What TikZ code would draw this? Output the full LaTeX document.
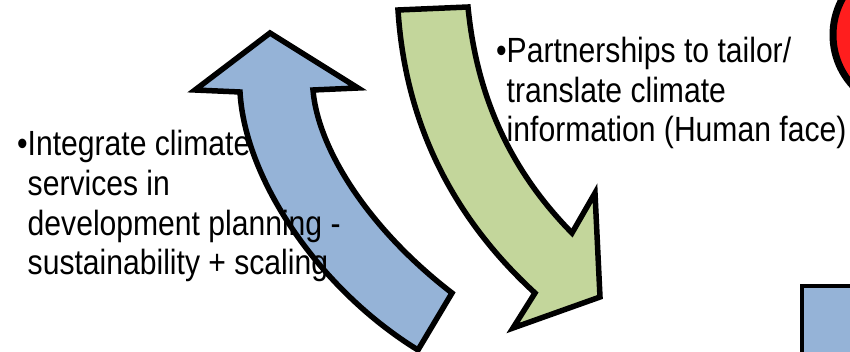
\documentclass[tikz,border=0pt]{standalone}
\usepackage{fontspec}
\setmainfont[FakeStretch=0.86]{Liberation Sans}
\usepackage{tikz}
\definecolor{skyblue}{RGB}{149, 179, 215}
\definecolor{leaf}{RGB}{195, 214, 155}
\definecolor{signal}{RGB}{255, 30, 30}

\begin{document}
\begin{tikzpicture}[x=0.1mm, y=-0.1mm, line width=0.55mm,
  font=\fontsize{9.96pt}{11.38pt}\selectfont]
  \useasboundingbox (0, 0) rectangle (850, 352);
  \clip (0, 0) rectangle (850, 352);

  % red disc and blue box, both cut by the edge
  \draw [fill=signal, line width=0.7mm] (908, 35) circle (7.5mm);
  \draw [fill=skyblue, line width=0.4mm] (802, 286) rectangle (900, 400);

  % green arrow, bending down to the right
  \draw [fill=leaf] (398, 10) -- (468, 7)
    .. controls (478, 110) and (520, 180) .. (572, 233)
    -- (595, 193) -- (600, 297) -- (513, 328) -- (535, 293)
    .. controls (450, 215) and (405, 120) .. (398, 10) -- cycle;

  % blue arrow, bending up to the left
  \draw [fill=skyblue] (418, 350) -- (452, 293)
    .. controls (370, 230) and (318, 150) .. (313, 90)
    -- (358, 88) -- (270, 33) -- (195, 90) -- (240, 92)
    .. controls (245, 180) and (320, 290) .. (418, 350) -- cycle;

  % base anchor sits on the last line
  \node [anchor=base west, align=left, inner sep=0] (plan) at (25, 275)
    {\llap{\textbullet}Integrate climate\\services in\\development planning -\\sustainability + scaling};
  \node [anchor=base west, align=left, inner sep=0] (partner) at (504, 142)
    {\llap{\textbullet}Partnerships to tailor/\\translate climate\\information (Human face)};
\end{tikzpicture}
\end{document}
